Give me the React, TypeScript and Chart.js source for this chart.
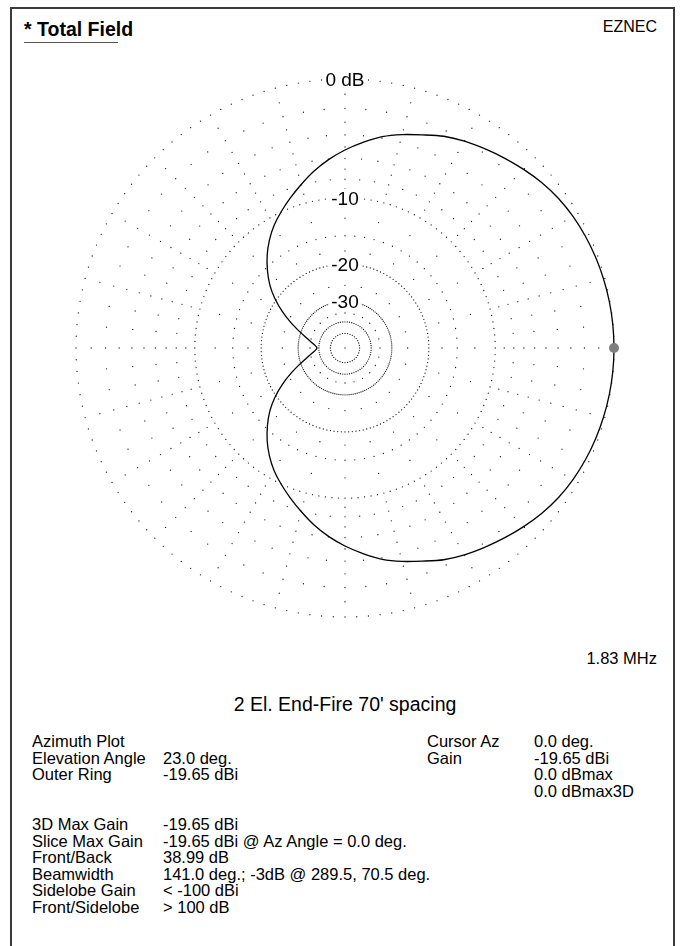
import { useEffect, useRef } from 'react';
import { Chart, registerables } from 'chart.js';

Chart.register(...registerables);

// Pattern: azimuth (deg, CCW from right) and gain relative to max (dB)
const AZIMUTH_DEG = [
  0, 5, 10, 15, 20, 25, 30, 35, 40, 45, 50, 55, 60, 65, 70, 75, 80, 85,
  90, 95, 100, 105, 110, 115, 120, 125, 130, 135, 140, 145, 150, 155, 160, 165, 170, 175,
  180, 185, 190, 195, 200, 205, 210, 215, 220, 225, 230, 235, 240, 245, 250, 255, 260, 265,
  270, 275, 280, 285, 290, 295, 300, 305, 310, 315, 320, 325, 330, 335, 340, 345, 350, 355,
];
const GAIN_DBMAX = [
  0.0, -0.01, -0.04, -0.09, -0.16, -0.25, -0.37, -0.54, -0.78, -1.08, -1.4, -1.72, -2.04, -2.42, -2.93, -3.38, -3.88, -4.55,
  -5.26, -6.05, -6.95, -7.95, -8.95, -9.95, -11.0, -12.25, -13.7, -15.4, -17.3, -19.7, -22.6, -25.9, -29.4, -32.6, -35.3, -37.6,
  -39.0, -37.6, -35.3, -32.6, -29.4, -25.9, -22.6, -19.7, -17.3, -15.4, -13.7, -12.25, -11.0, -9.95, -8.95, -7.95, -6.95, -6.05,
  -5.26, -4.55, -3.88, -3.38, -2.93, -2.42, -2.04, -1.72, -1.4, -1.08, -0.78, -0.54, -0.37, -0.25, -0.16, -0.09, -0.04, -0.01,
];
const PATTERN_START_INDEX = 36; // start/end path at the rear null

const CURSOR_AZ_DEG = [0];
const CURSOR_DBMAX = [0];

// Grid (ARRL log scale)
const RING_DB = [0, -10, -20, -30, -40, -50];
const RING_DOT_STEP_DEG = [2.5, 2.5, 2.5, 2.5, 5, 10];
const RING_LABEL_DB = [0, -10, -20, -30];
const RING_LABELS = ['0 dB', '-10', '-20', '-30'];
const SPOKE_DB_ALL = [-2, -4, -6, -8, -15];
const SPOKE_DB_MAJOR = [-1, -3, -5, -7, -9, -12.5, -17.5, -25, -35];
const SPOKE_STEP_DEG = 5;
const MAJOR_SPOKE_STEP_DEG = 15;

// Text block
const LEFT_LABELS = ['Azimuth Plot', 'Elevation Angle', 'Outer Ring', '', '', '3D Max Gain', 'Slice Max Gain', 'Front/Back', 'Beamwidth', 'Sidelobe Gain', 'Front/Sidelobe'];
const LEFT_VALUES = ['', '23.0 deg.', '-19.65 dBi', '', '', '-19.65 dBi', '-19.65 dBi @ Az Angle = 0.0 deg.', '38.99 dB', '141.0 deg.; -3dB @ 289.5, 70.5 deg.', '< -100 dBi', '> 100 dB'];
const RIGHT_LABELS = ['Cursor Az', 'Gain', '', ''];
const RIGHT_VALUES = ['0.0 deg.', '-19.65 dBi', '0.0 dBmax', '0.0 dBmax3D'];

const FONT = '"Liberation Sans", Arial, Helvetica, sans-serif';
const AXIS_LIMIT = 300 / 269;

function arrl(db: number) {
  return Math.pow(0.89, -db / 2);
}
function toXY(azDeg: number, db: number) {
  const r = arrl(db);
  const a = (azDeg * Math.PI) / 180;
  return { x: r * Math.cos(a), y: r * Math.sin(a) };
}

const ringLabelPlugin = {
  id: 'ringLabels',
  afterDatasetsDraw(chart: any) {
    const { ctx, scales } = chart;
    ctx.save();
    ctx.font = `19px ${FONT}`;
    ctx.textAlign = 'center';
    ctx.textBaseline = 'alphabetic';
    RING_LABEL_DB.forEach((db, i) => {
      const px = scales.x.getPixelForValue(0);
      const py = scales.y.getPixelForValue(arrl(db));
      const w = ctx.measureText(RING_LABELS[i]).width;
      ctx.fillStyle = '#ffffff';
      ctx.fillRect(px - w / 2 - 3, py - 9, w + 6, 18);
      ctx.fillStyle = '#000000';
      ctx.fillText(RING_LABELS[i], px, py + 6.8);
    });
    ctx.restore();
  },
};

function PolarChart() {
  const ref = useRef<HTMLCanvasElement | null>(null);
  useEffect(() => {
    if (!ref.current) return;
    const grid: { x: number; y: number }[] = [];
    RING_DB.forEach((db, i) => {
      const step = RING_DOT_STEP_DEG[i];
      for (let a = 0; a < 360; a += step) grid.push(toXY(a, db));
    });
    for (let a = 0; a < 360; a += SPOKE_STEP_DEG) {
      SPOKE_DB_ALL.forEach((db) => grid.push(toXY(a, db)));
      if (a % MAJOR_SPOKE_STEP_DEG === 0) SPOKE_DB_MAJOR.forEach((db) => grid.push(toXY(a, db)));
    }
    grid.push({ x: 0, y: 0 });

    const pattern: { x: number; y: number }[] = [];
    const n = AZIMUTH_DEG.length;
    for (let k = 0; k <= n; k++) {
      const idx = (PATTERN_START_INDEX + k) % n;
      pattern.push(toXY(AZIMUTH_DEG[idx], GAIN_DBMAX[idx]));
    }
    const cursor = CURSOR_AZ_DEG.map((a, i) => toXY(a, CURSOR_DBMAX[i]));

    const chart = new Chart(ref.current, {
      type: 'scatter',
      data: {
        datasets: [
          {
            data: grid,
            pointRadius: 0.65,
            pointBackgroundColor: '#1a1a1a',
            pointBorderWidth: 0,
            showLine: false,
            order: 3,
          },
          {
            data: pattern,
            showLine: true,
            borderColor: '#000',
            borderWidth: 1.3,
            pointRadius: 0,
            tension: 0.3,
            fill: false,
            order: 2,
          },
          {
            data: cursor,
            pointRadius: 5,
            pointBackgroundColor: '#7f7f7f',
            pointBorderWidth: 0,
            showLine: false,
            order: 1,
          },
        ],
      },
      options: {
        responsive: false,
        maintainAspectRatio: false,
        animation: false,
        layout: { padding: 0, autoPadding: false },
        plugins: { legend: { display: false }, tooltip: { enabled: false } },
        scales: {
          x: { type: 'linear', display: false, min: -AXIS_LIMIT, max: AXIS_LIMIT },
          y: { type: 'linear', display: false, min: -AXIS_LIMIT, max: AXIS_LIMIT },
        },
      },
      plugins: [ringLabelPlugin],
    });
    return () => chart.destroy();
  }, []);
  return (
    <canvas
      ref={ref}
      width={600}
      height={600}
      style={{ position: 'absolute', left: 45, top: 48, width: 600, height: 600 }}
    />
  );
}

const ROW_START = 741;
const ROW_STEP = 16.6;
const INFO_FS = 16.5;

export default function App() {
  const textBase: any = { position: 'absolute', fontFamily: FONT, color: '#000', whiteSpace: 'pre', lineHeight: 1 };
  const topFor = (cy: number, fs: number) => cy - 0.49 * fs;
  const line = (l: number, t: number, w: number, h: number) => (
    <div style={{ position: 'absolute', left: l, top: t, width: w, height: h, background: '#3a3a3a' }} />
  );
  return (
    <div style={{ position: 'relative', width: 680, height: 946, overflow: 'hidden', background: '#fff' }}>
      <style>{'html,body{margin:0;padding:0;overflow:hidden;}'}</style>
      {line(10, 7, 665, 2)}
      {line(10, 7, 2, 939)}
      {line(673, 7, 2, 939)}
      <PolarChart />
      <div style={{ ...textBase, left: 24, top: topFor(30, 19.5), fontSize: 19.5, fontWeight: 'bold' }}>* Total Field</div>
      <div style={{ position: 'absolute', left: 24, top: 41.5, width: 94, height: 1.6, background: '#555' }} />
      <div style={{ ...textBase, right: 23, top: topFor(27, 16), fontSize: 16 }}>EZNEC</div>
      <div style={{ ...textBase, right: 23, top: topFor(658, INFO_FS), fontSize: INFO_FS }}>1.83 MHz</div>
      <div style={{ ...textBase, left: 8, width: 674, textAlign: 'center', top: topFor(705, 19.5), fontSize: 19.5 }}>
        2 El. End-Fire 70' spacing
      </div>
      {LEFT_LABELS.map((label, i) => (
        <div key={'l' + i}>
          <div style={{ ...textBase, left: 32, top: topFor(ROW_START + i * ROW_STEP, INFO_FS), fontSize: INFO_FS }}>{label}</div>
          <div style={{ ...textBase, left: 163, top: topFor(ROW_START + i * ROW_STEP, INFO_FS), fontSize: INFO_FS }}>{LEFT_VALUES[i]}</div>
        </div>
      ))}
      {RIGHT_VALUES.map((val, i) => (
        <div key={'r' + i}>
          <div style={{ ...textBase, left: 427, top: topFor(ROW_START + i * ROW_STEP, INFO_FS), fontSize: INFO_FS }}>{RIGHT_LABELS[i]}</div>
          <div style={{ ...textBase, left: 534, top: topFor(ROW_START + i * ROW_STEP, INFO_FS), fontSize: INFO_FS }}>{val}</div>
        </div>
      ))}
    </div>
  );
}
